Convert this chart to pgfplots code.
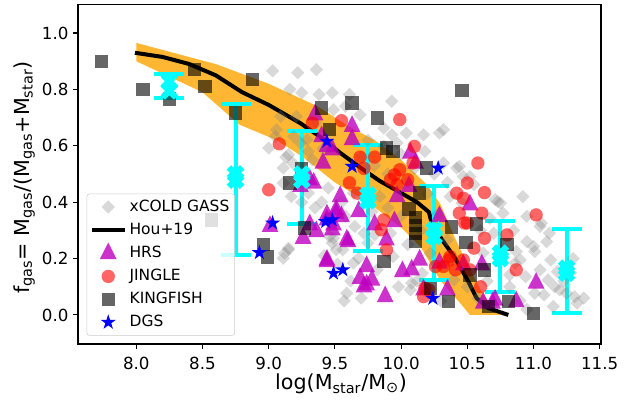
\documentclass[border=0pt]{standalone}
\usepackage{fontspec}
\setmainfont{DejaVu Sans}
\usepackage{pgfplots}
\pgfplotsset{compat=1.18}
\definecolor{hrs}{HTML}{BF00BF}
\definecolor{bandc}{HTML}{FFA500}
\definecolor{legframe}{HTML}{CCCCCC}
\definecolor{cyanrgb}{rgb}{0,1,1}
\definecolor{bluergb}{rgb}{0,0,1}
\definecolor{redrgb}{rgb}{1,0,0}
\pgfdeclareplotmark{fstar}{%
  \pgfpathmoveto{\pgfqpointpolar{90}{\pgfplotmarksize}}%
  \pgfpathlineto{\pgfqpointpolar{126}{0.382\pgfplotmarksize}}%
  \pgfpathlineto{\pgfqpointpolar{162}{\pgfplotmarksize}}%
  \pgfpathlineto{\pgfqpointpolar{198}{0.382\pgfplotmarksize}}%
  \pgfpathlineto{\pgfqpointpolar{234}{\pgfplotmarksize}}%
  \pgfpathlineto{\pgfqpointpolar{270}{0.382\pgfplotmarksize}}%
  \pgfpathlineto{\pgfqpointpolar{306}{\pgfplotmarksize}}%
  \pgfpathlineto{\pgfqpointpolar{342}{0.382\pgfplotmarksize}}%
  \pgfpathlineto{\pgfqpointpolar{18}{\pgfplotmarksize}}%
  \pgfpathlineto{\pgfqpointpolar{54}{0.382\pgfplotmarksize}}%
  \pgfpathclose
  \pgfusepathqfill}
\pgfdeclareplotmark{fX}{%
  \pgftransformrotate{45}%
  \pgfpathmoveto{\pgfpoint{-0.333\pgfplotmarksize}{-\pgfplotmarksize}}%
  \pgfpathlineto{\pgfpoint{0.333\pgfplotmarksize}{-\pgfplotmarksize}}%
  \pgfpathlineto{\pgfpoint{0.333\pgfplotmarksize}{-0.333\pgfplotmarksize}}%
  \pgfpathlineto{\pgfpoint{\pgfplotmarksize}{-0.333\pgfplotmarksize}}%
  \pgfpathlineto{\pgfpoint{\pgfplotmarksize}{0.333\pgfplotmarksize}}%
  \pgfpathlineto{\pgfpoint{0.333\pgfplotmarksize}{0.333\pgfplotmarksize}}%
  \pgfpathlineto{\pgfpoint{0.333\pgfplotmarksize}{\pgfplotmarksize}}%
  \pgfpathlineto{\pgfpoint{-0.333\pgfplotmarksize}{\pgfplotmarksize}}%
  \pgfpathlineto{\pgfpoint{-0.333\pgfplotmarksize}{0.333\pgfplotmarksize}}%
  \pgfpathlineto{\pgfpoint{-\pgfplotmarksize}{0.333\pgfplotmarksize}}%
  \pgfpathlineto{\pgfpoint{-\pgfplotmarksize}{-0.333\pgfplotmarksize}}%
  \pgfpathlineto{\pgfpoint{-0.333\pgfplotmarksize}{-0.333\pgfplotmarksize}}%
  \pgfpathclose
  \pgfusepathqfill}
\begin{document}
\begin{tikzpicture}
\begin{axis}[
  at={(0,0)}, anchor=south west, scale only axis,
  width=392.25pt, height=254.8pt,
  xmin=7.56, xmax=11.51, ymin=-0.103, ymax=1.102,
  xtick={8,8.5,9,9.5,10,10.5,11,11.5},
  ytick={0,0.2,0.4,0.6,0.8,1.0},
  tick align=outside, tick pos=left,
  major tick length=3.65pt,
  every tick/.style={black, line width=0.8pt},
  axis line style={line width=0.8pt},
  /pgf/number format/assume math mode=true,
  /pgf/number format/.cd, fixed, fixed zerofill, precision=1, /pgfplots/.cd,
  ticklabel style={font=\fontsize{12.5}{15}\selectfont},
  xticklabel style={yshift=-2.5pt},
  xlabel={log(M\textsubscript{star}/M\textsubscript{⊙})},
  ylabel={f\textsubscript{gas}= M\textsubscript{gas}/(M\textsubscript{gas}+M\textsubscript{star})},
  every axis x label/.style={at={(axis description cs:0.503,-0.118)}, anchor=center, font=\fontsize{15.5}{18}\selectfont},
  every axis y label/.style={at={(axis description cs:-0.103,0.49)}, anchor=center, rotate=90, font=\fontsize{15.5}{18}\selectfont},
  legend image code/.code={\draw[mark repeat=2,mark phase=2,#1] plot coordinates {(0pt,0pt)(12.5pt,0pt)(25pt,0pt)};},
  legend cell align=left,
  legend style={at={(0.0166,0.0244)}, anchor=south west, font=\fontsize{11.6}{14}\selectfont,
    fill=white, fill opacity=0.8, text opacity=1, draw=legframe, draw opacity=1, rounded corners=2pt,
    inner sep=2pt, row sep=1.5pt,
    nodes={inner sep=2pt, text height=9pt, text depth=2.7pt}},
]
% xCOLD GASS
\addplot[only marks, mark=square*, mark size=3.5pt, color=gray, fill opacity=0.3, mark options={rotate=45, draw opacity=0, fill opacity=0.3}] coordinates {
(9.03,0.866)(9.22,0.859)(9.36,0.870)(9.16,0.800)(9.25,0.788)(9.38,0.782)(9.48,0.788)(9.06,0.657)(9.09,0.704)(9.21,0.704)
(9.00,0.592)(9.05,0.633)(9.19,0.633)(9.15,0.568)(9.24,0.610)(9.11,0.521)(9.29,0.622)(9.49,0.728)(9.36,0.681)(9.13,0.56)
(9.30,0.58)(9.18,0.54)(9.41,0.59)(9.33,0.55)
(9.61,0.782)(9.58,0.740)(9.69,0.710)(9.93,0.758)(9.87,0.663)(9.93,0.639)(10.04,0.645)(10.17,0.639)(10.29,0.645)(10.32,0.657)
(10.18,0.580)(10.32,0.539)(10.42,0.521)(10.47,0.491)(9.87,0.598)(10.44,0.527)(10.52,0.491)(9.97,0.61)(9.75,0.62)(9.70,0.56)
(9.80,0.53)(10.0,0.57)(10.1,0.52)(10.25,0.50)(10.05,0.47)(9.9,0.50)(10.35,0.47)(10.2,0.43)
(9.64,0.432)(9.78,0.367)(9.84,0.420)(9.72,0.290)(9.65,0.314)(9.75,0.255)(9.80,0.284)(9.64,0.184)(9.68,0.201)(9.82,0.160)
(9.94,0.207)(9.98,0.10)(10.07,0.089)(10.08,0.113)(10.37,0.42)(10.46,0.397)(10.50,0.10)(10.40,0.124)(10.35,0.266)(10.22,0.219)
(10.16,0.148)(9.59,0.077)(9.90,0.38)(10.0,0.35)(10.05,0.25)(10.15,0.30)(9.92,0.29)(10.28,0.36)(9.55,0.40)(9.58,0.35)
(10.12,0.12)(10.2,0.08)(10.3,0.05)
(9.15,0.231)(9.11,0.201)(9.46,0.278)(9.56,0.231)(9.17,0.42)(9.11,0.468)(9.12,0.219)(9.15,0.237)(9.30,0.432)(9.49,0.272)
(9.51,0.231)(9.48,0.255)(9.40,0.40)(9.35,0.38)(9.57,0.05)(9.62,0.12)(9.70,0.06)(9.45,0.45)(9.25,0.40)(9.52,0.18)(9.42,0.21)
(10.55,0.462)(10.73,0.402)(10.77,0.361)(11.06,0.326)(11.10,0.260)(10.95,0.260)(11.01,0.225)(10.87,0.225)(10.86,0.184)(10.94,0.136)
(11.05,0.160)(11.13,0.195)(11.18,0.154)(11.16,0.10)(11.11,0.124)(11.01,0.077)(11.08,0.071)(11.31,0.065)(11.33,0.042)(11.20,0.089)
(11.25,0.077)(10.82,0.142)(10.82,0.10)(10.77,0.207)(10.70,0.29)(10.67,0.343)(11.05,0.314)(11.0,0.243)(10.90,0.195)(10.75,0.397)
(10.71,0.409)(10.60,0.30)(10.62,0.22)(10.65,0.12)(10.58,0.06)(10.9,0.05)(10.95,0.02)(11.15,0.03)(11.23,0.12)(11.28,0.15)
(11.38,0.06)(10.85,0.30)(10.95,0.35)(11.12,0.29)(10.92,0.42)(11.3,0.20)
};
\addlegendentry{xCOLD GASS}
% Hou+19 band
\addplot[draw=none, fill=bandc, fill opacity=0.8, forget plot] coordinates {
(8.0,0.965)(8.4,0.915)(8.6,0.89)(9.0,0.82)(9.37,0.74)(9.6,0.67)(9.8,0.62)(10.0,0.55)(10.2,0.46)(10.3,0.39)(10.4,0.28)(10.5,0.18)(10.6,0.09)(10.7,0.02)(10.76,0.0)
(10.52,0.0)(10.45,0.04)(10.3,0.12)(10.15,0.24)(10.0,0.31)(9.75,0.40)(9.5,0.47)(9.26,0.56)(9.06,0.62)(8.78,0.675)(8.5,0.79)(8.0,0.90)
} -- cycle;
% Hou+19 line
\addplot[black, line width=3pt] coordinates {
(7.99,0.93)(8.2,0.915)(8.4,0.89)(8.6,0.85)(8.8,0.79)(9.0,0.745)(9.24,0.68)(9.4,0.628)(9.54,0.575)(9.7,0.52)(9.84,0.475)
(9.98,0.438)(10.12,0.40)(10.21,0.365)(10.24,0.31)(10.29,0.28)(10.41,0.20)(10.51,0.117)(10.57,0.06)(10.66,0.024)(10.81,0.0)
};
\addlegendentry{Hou+19}
% HRS
\addplot[only marks, mark=triangle*, mark size=8.3pt, color=hrs, fill opacity=0.8, mark options={draw opacity=0, fill opacity=0.8, xscale=0.87}] coordinates {
(9.35,0.71)(9.44,0.598)(9.41,0.539)(9.40,0.633)(9.48,0.586)(9.63,0.669)(9.63,0.622)(10.07,0.574)(10.11,0.539)
(9.01,0.314)(9.26,0.272)(9.36,0.296)(9.31,0.32)(9.44,0.195)(9.51,0.373)(9.49,0.32)(9.44,0.337)(9.59,0.266)(9.31,0.48)
(9.44,0.355)(9.48,0.302)(9.44,0.189)(9.51,0.361)(9.24,0.456)(9.34,0.468)
(9.68,0.367)(9.55,0.349)(9.60,0.26)(9.74,0.172)(9.72,0.10)(9.78,0.124)(9.88,0.065)(9.80,0.32)(9.97,0.42)(9.95,0.331)
(10.01,0.154)(10.08,0.16)(10.14,0.195)(10.17,0.089)(10.06,0.456)(10.29,0.349)(10.29,0.184)(10.35,0.089)(9.54,0.42)(9.89,0.266)
(9.69,0.13)(9.74,0.107)
(10.52,0.391)(10.61,0.178)(11.02,0.113)(10.62,0.042)(10.71,0.053)(10.87,0.047)(10.47,0.178)(10.69,0.042)
};
\addlegendentry{HRS}
% JINGLE
\addplot[only marks, mark=*, mark size=5pt, color=redrgb, fill opacity=0.6, mark options={draw opacity=0, fill opacity=0.6}] coordinates {
(9.08,0.607)(9.55,0.689)(9.99,0.693)(10.10,0.598)(10.58,0.539)(9.33,0.681)
(9.69,0.56)(9.99,0.515)(9.95,0.497)(10.09,0.539)(9.72,0.52)(9.80,0.56)(9.92,0.48)(10.05,0.48)
(9.00,0.444)
(9.61,0.469)(9.67,0.432)(9.87,0.337)(9.85,0.302)(9.89,0.231)(9.97,0.462)(10.26,0.172)(10.32,0.172)(10.37,0.207)(10.41,0.16)
(10.44,0.361)(10.42,0.432)(10.48,0.326)(10.21,0.089)(10.17,0.065)(10.50,0.468)
(10.63,0.434)(11.02,0.355)(10.47,0.414)(10.61,0.361)(10.63,0.272)(10.80,0.284)(10.87,0.16)(10.60,0.10)(10.52,0.16)(10.50,0.326)
(10.47,0.195)(10.55,0.237)(10.18,0.095)(10.36,0.195)
};
\addlegendentry{JINGLE}
% KINGFISH
\addplot[only marks, mark=square*, mark size=5pt, color=black, fill opacity=0.6, mark options={draw opacity=0, fill opacity=0.6}] coordinates {
(7.74,0.90)(8.05,0.80)(8.25,0.766)(8.44,0.87)(8.52,0.81)(8.88,0.835)(8.75,0.716)(9.40,0.734)(9.46,0.657)(9.63,0.752)
(9.25,0.52)(10.46,0.797)(9.82,0.699)(9.89,0.592)(9.94,0.58)(10.19,0.521)(8.96,0.249)(8.99,0.205)(9.16,0.468)(9.27,0.308)(8.57,0.337)
(10.06,0.376)(10.11,0.345)(10.11,0.318)(10.11,0.29)(10.11,0.26)(9.87,0.19)(10.14,0.432)(10.38,0.312)(10.22,0.095)(10.36,0.047)
(10.57,0.323)(10.49,0.258)(10.80,0.25)(10.63,0.16)(10.52,0.142)(10.66,0.03)(10.81,0.047)(11.0,0.006)
};
\addlegendentry{KINGFISH}
% DGS
\addplot[only marks, mark=fstar, mark size=6pt, color=bluergb, fill opacity=1, mark options={fill opacity=1}] coordinates {
(8.93,0.221)(9.03,0.326)(9.43,0.331)(9.48,0.337)(9.44,0.616)(9.49,0.148)(9.56,0.16)(9.63,0.527)(10.28,0.521)(10.24,0.059)
};
\addlegendentry{DGS}
% error bars
\addplot[only marks, mark=none, draw=cyanrgb, forget plot,
  error bars/.cd, y dir=both, y explicit,
  error bar style={line width=3pt, cyanrgb},
  error mark options={rotate=90, cyanrgb, line width=3pt, mark size=11.25pt}] coordinates {
(8.25,0.81) += (0,0.043) -= (0,0.04)
(8.75,0.49) += (0,0.26) -= (0,0.277)
(9.25,0.49) += (0,0.161) -= (0,0.167)
(9.75,0.415) += (0,0.189) -= (0,0.187)
(10.25,0.29) += (0,0.166) -= (0,0.166)
(10.75,0.21) += (0,0.125) -= (0,0.127)
(11.25,0.157) += (0,0.147) -= (0,0.149)
};
\addplot[only marks, mark=fX, mark size=7pt, color=cyanrgb, forget plot] coordinates {
(8.25,0.829)(8.25,0.795)
(8.75,0.50)(8.75,0.478)
(9.25,0.50)(9.25,0.478)
(9.75,0.425)(9.75,0.405)
(10.25,0.302)(10.25,0.278)
(10.75,0.219)(10.75,0.200)
(11.25,0.166)(11.25,0.148)
};
\end{axis}
\pgfresetboundingbox
\path[use as bounding box] (-58.5pt,-42pt) rectangle (412.5pt,258pt);
\end{tikzpicture}
\end{document}
